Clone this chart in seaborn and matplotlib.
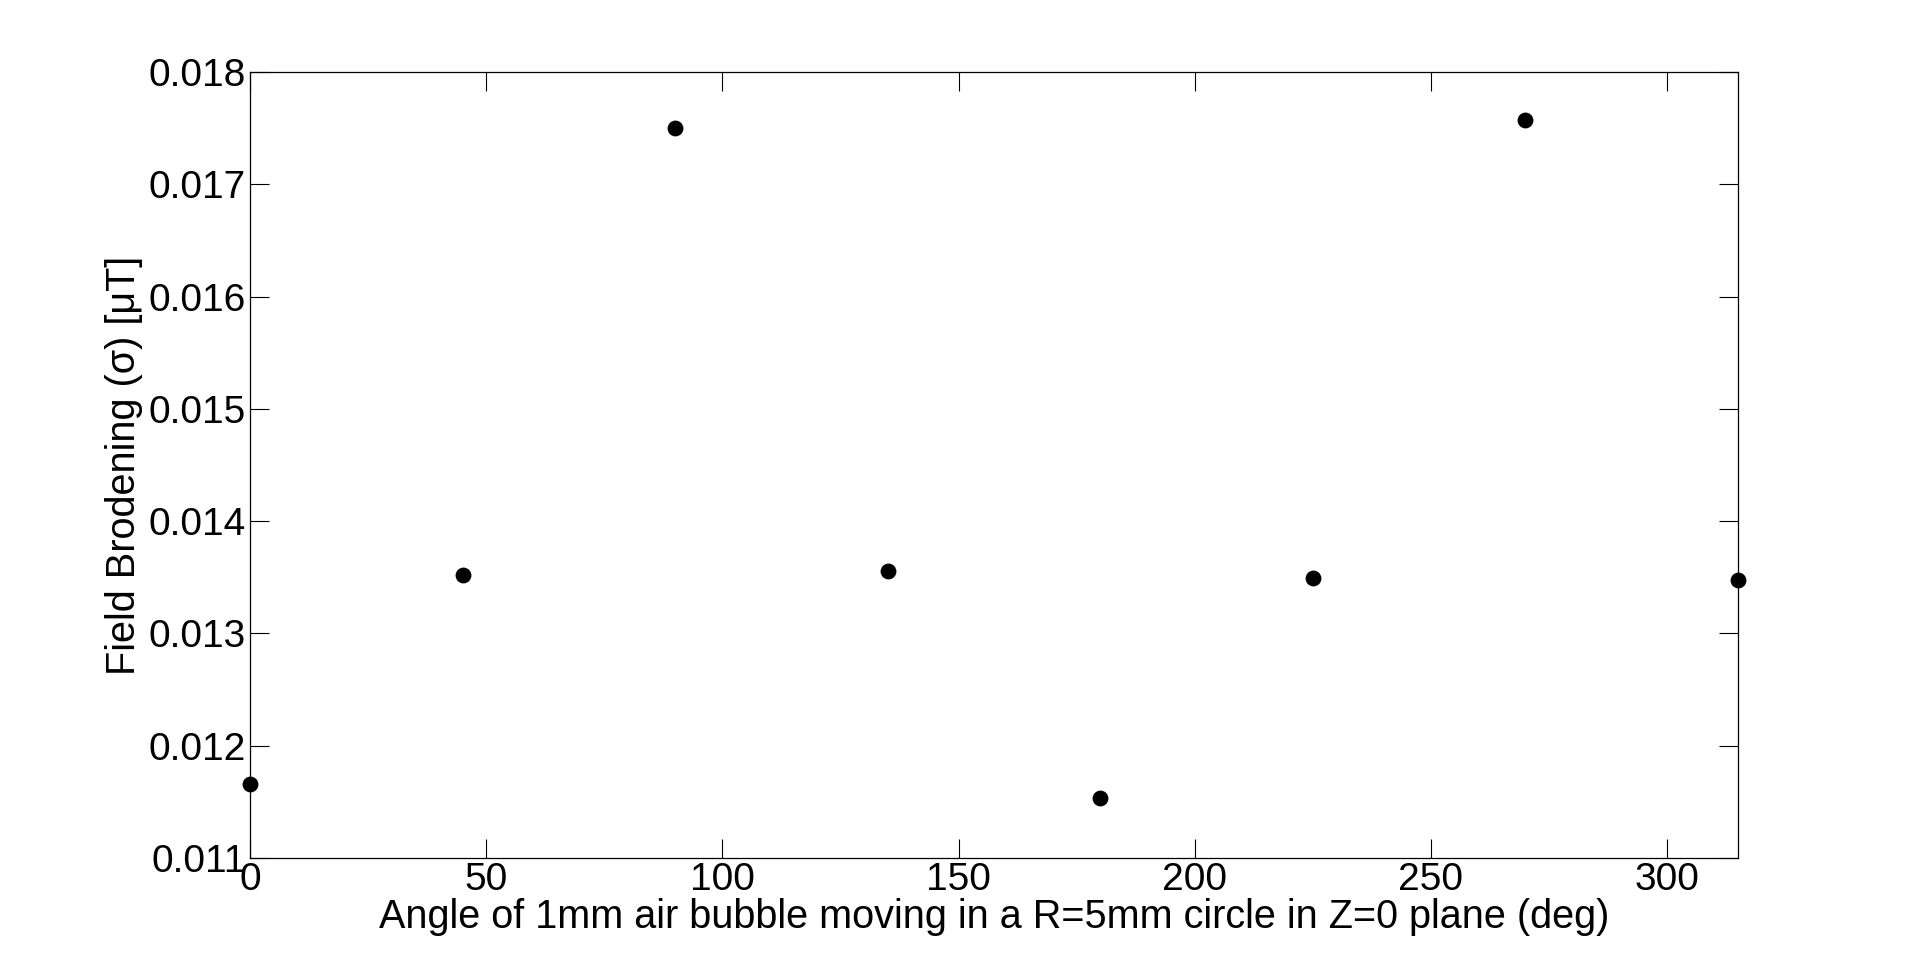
import matplotlib
matplotlib.use("Agg")
import matplotlib.pyplot as plt
import seaborn as sns
import pandas as pd

angles = [0, 45, 90, 135, 180, 225, 270, 315]
broadening = [0.01166, 0.013523, 0.01750, 0.013555, 0.011535, 0.01349, 0.017574, 0.013479]
x_ticks = [0, 50, 100, 150, 200, 250, 300]
y_ticks = [0.011, 0.012, 0.013, 0.014, 0.015, 0.016, 0.017, 0.018]

sns.set_theme(style="ticks")
plt.rcParams['font.family'] = ['Liberation Sans', 'DejaVu Sans']
plt.rcParams['text.color'] = 'black'
plt.rcParams['axes.labelcolor'] = 'black'

df = pd.DataFrame({"angle": angles, "sigma": broadening})

fig = plt.figure(figsize=(19.2, 9.64), dpi=100)
ax = fig.add_axes([250/1920, 1 - 858/964, (1738-250)/1920, (858-72)/964])
sns.scatterplot(data=df, x="angle", y="sigma", ax=ax, color="black", s=130,
                edgecolor="black", linewidth=0, clip_on=False, zorder=3)
ax.set_xlim(0, 315)
ax.set_ylim(0.011, 0.018)
ax.set_xticks(x_ticks)
ax.set_yticks(y_ticks)
ax.set_yticklabels([f"{v:.3f}" for v in y_ticks])
ax.tick_params(direction="in", length=14, width=0.8, top=True, right=True,
               labelsize=28, colors="black", labelcolor="black", pad=3)
for sp in ax.spines.values():
    sp.set_visible(True)
    sp.set_linewidth(0.9)
    sp.set_color("black")
ax.set_xlabel("Angle of 1mm air bubble moving in a R=5mm circle in Z=0 plane (deg)",
              fontsize=28.5, labelpad=0, color="black")
ax.set_ylabel("Field Brodening (σ) [μT]", fontsize=28.5, labelpad=4, color="black")
fig.savefig("out.png", dpi=100, facecolor="white")
